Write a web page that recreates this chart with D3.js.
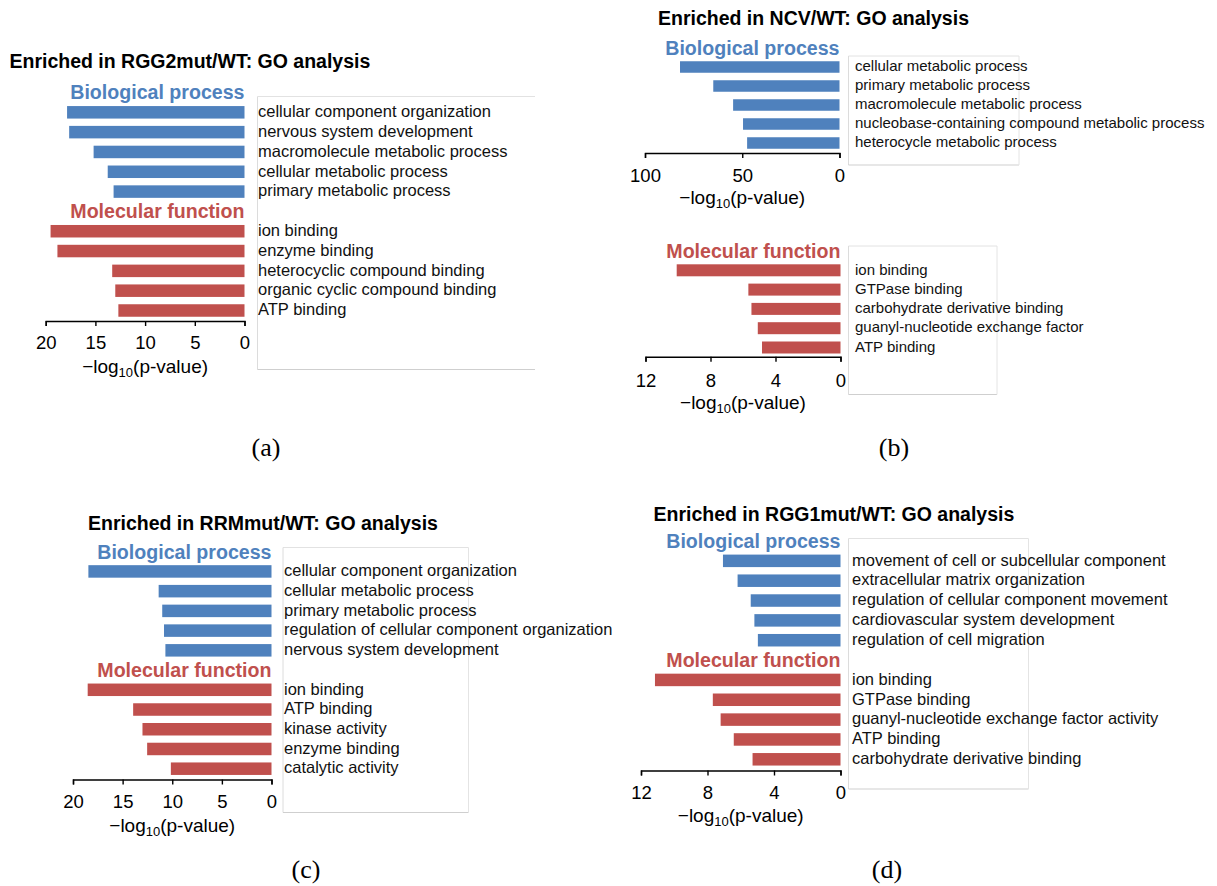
<!DOCTYPE html>
<html>
<head>
<meta charset="utf-8">
<script src="https://cdn.jsdelivr.net/npm/d3@7"></script>
<style>
  html, body { margin: 0; padding: 0; background: #fff; }
  svg { display: block; font-family: Arial, "Liberation Sans", Helvetica, sans-serif; }
</style>
</head>
<body>
<svg id="fig" width="1217" height="886"></svg>
<script>
// GO term enrichment (−log10 p-value) of genes enriched in each mutant vs WT

// (a) RGG2mut/WT
const rgg2Process = ["cellular component organization", "nervous system development", "macromolecule metabolic process", "cellular metabolic process", "primary metabolic process"];
const rgg2ProcessValues = [17.85, 17.64, 15.18, 13.76, 13.17];
const rgg2Function = ["ion binding", "enzyme binding", "heterocyclic compound binding", "organic cyclic compound binding", "ATP binding"];
const rgg2FunctionValues = [19.51, 18.82, 13.31, 13.0, 12.69];
const rgg2Ticks = [20, 15, 10, 5, 0];

// (b) NCV/WT
const ncvProcess = ["cellular metabolic process", "primary metabolic process", "macromolecule metabolic process", "nucleobase-containing compound metabolic process", "heterocycle metabolic process"];
const ncvProcessValues = [82.0, 64.9, 54.7, 49.6, 47.5];
const ncvProcessTicks = [100, 50, 0];
const ncvFunction = ["ion binding", "GTPase binding", "carbohydrate derivative binding", "guanyl-nucleotide exchange factor", "ATP binding"];
const ncvFunctionValues = [10.08, 5.67, 5.48, 5.09, 4.83];
const ncvFunctionTicks = [12, 8, 4, 0];

// (c) RRMmut/WT
const rrmProcess = ["cellular component organization", "cellular metabolic process", "primary metabolic process", "regulation of cellular component organization", "nervous system development"];
const rrmProcessValues = [18.45, 11.37, 11.01, 10.83, 10.69];
const rrmFunction = ["ion binding", "ATP binding", "kinase activity", "enzyme binding", "catalytic activity"];
const rrmFunctionValues = [18.52, 13.94, 13.0, 12.53, 10.14];
const rrmTicks = [20, 15, 10, 5, 0];

// (d) RGG1mut/WT
const rgg1Process = ["movement of cell or subcellular component", "extracellular matrix organization", "regulation of cellular component movement", "cardiovascular system development", "regulation of cell migration"];
const rgg1ProcessValues = [7.07, 6.19, 5.40, 5.18, 4.97];
const rgg1Function = ["ion binding", "GTPase binding", "guanyl-nucleotide exchange factor activity", "ATP binding", "carbohydrate derivative binding"];
const rgg1FunctionValues = [11.16, 7.68, 7.21, 6.42, 5.29];
const rgg1Ticks = [12, 8, 4, 0];

const BLUE = "#4f81bd";
const RED = "#c0504d";
const BP = "Biological process";
const MF = "Molecular function";

const svg = d3.select("#fig");

function groupOf(name, color, terms, values) {
  return { name, color, terms, values };
}

// One block = header(s) + bars + bottom axis + framed label box
function drawBlock(b) {
  const g = svg.append("g");
  const rows = [];
  b.groups.forEach(gr => {
    rows.push("head:" + gr.name);
    gr.terms.forEach(t => rows.push(gr.name + ":" + t));
  });
  const y = d3.scalePoint().domain(rows).range(b.rowRange);
  const x = d3.scaleLinear().domain([0, b.max]).range([b.xRange[1], b.xRange[0]]);

  // label frame
  const [bx0, by0, bx1, by1] = b.box;
  const frame = g.append("g").attr("fill", "none").attr("stroke-width", 1);
  frame.append("line").attr("x1", bx0).attr("y1", by0).attr("x2", bx1).attr("y2", by0).attr("stroke", "#e2e2e2");
  frame.append("line").attr("x1", bx0).attr("y1", by0).attr("x2", bx0).attr("y2", by1).attr("stroke", "#dcdcdc");
  frame.append("line").attr("x1", bx0).attr("y1", by1).attr("x2", bx1).attr("y2", by1).attr("stroke", "#cfcfcf");
  if (b.rightEdge) {
    frame.append("line").attr("x1", bx1).attr("y1", by0).attr("x2", bx1).attr("y2", by1).attr("stroke", "#e4e4e4");
  }

  b.groups.forEach(gr => {
    g.append("text")
      .attr("x", x(0))
      .attr("y", y("head:" + gr.name))
      .attr("dy", "0.35em")
      .attr("text-anchor", "end")
      .attr("font-weight", "bold")
      .attr("font-size", 19.6)
      .attr("fill", gr.color)
      .text(gr.name);

    const data = gr.terms.map((t, i) => ({ key: gr.name + ":" + t, term: t, v: gr.values[i] }));
    g.selectAll(null).data(data).join("rect")
      .attr("x", d => x(d.v))
      .attr("y", d => y(d.key) - b.barH / 2)
      .attr("width", d => x(0) - x(d.v))
      .attr("height", b.barH)
      .attr("fill", gr.color);

    g.selectAll(null).data(data).join("text")
      .attr("x", b.labelX)
      .attr("y", d => y(d.key) - 1)
      .attr("dy", "0.35em")
      .attr("font-size", b.labelSize)
      .attr("fill", "#111")
      .text(d => d.term);
  });

  const axis = d3.axisBottom(x).tickValues(b.ticks).tickSize(5).tickPadding(b.tickPad).tickFormat(d3.format("d"));
  const ax = g.append("g").attr("transform", `translate(0,${b.axisY})`).call(axis);
  ax.select(".domain").attr("stroke", "#000").attr("stroke-width", 1.4);
  ax.selectAll(".tick line").attr("stroke", "#000").attr("stroke-width", 1.4);
  ax.selectAll(".tick text").attr("font-size", 18.5).attr("fill", "#000")
    .attr("font-family", "Arial, 'Liberation Sans', sans-serif");

  const t = g.append("text")
    .attr("x", (b.xRange[0] + b.xRange[1]) / 2)
    .attr("y", b.axisY + b.titleGap)
    .attr("text-anchor", "middle")
    .attr("font-size", 19)
    .attr("fill", "#000");
  t.append("tspan").text("\u2212log");
  t.append("tspan").attr("font-size", 13).attr("dy", 4).text("10");
  t.append("tspan").attr("dy", -4).text("(p-value)");
}

function drawTitle(txt, x, y) {
  svg.append("text")
    .attr("x", x).attr("y", y).attr("dy", "0.35em")
    .attr("font-weight", "bold").attr("font-size", 19.5).attr("fill", "#000")
    .text(txt);
}

function drawCaption(txt, x, y) {
  svg.append("text")
    .attr("x", x).attr("y", y).attr("dy", "0.33em")
    .attr("text-anchor", "middle")
    .attr("font-family", "'Liberation Serif', 'DejaVu Serif', serif")
    .attr("font-size", 26).attr("fill", "#000")
    .text(txt);
}

// (a)
drawTitle("Enriched in RGG2mut/WT: GO analysis", 9.5, 61.5);
drawBlock({
  groups: [groupOf(BP, BLUE, rgg2Process, rgg2ProcessValues), groupOf(MF, RED, rgg2Function, rgg2FunctionValues)],
  rowRange: [92.5, 310.5], barH: 12.5,
  xRange: [45.7, 244.5], max: 20, ticks: rgg2Ticks,
  axisY: 321, tickPad: 10, titleGap: 52,
  labelX: 258, labelSize: 16.5,
  box: [257.5, 96.5, 535, 369.5], rightEdge: false
});
drawCaption("(a)", 266, 447);

// (b)
drawTitle("Enriched in NCV/WT: GO analysis", 658, 18.5);
drawBlock({
  groups: [groupOf(BP, BLUE, ncvProcess, ncvProcessValues)],
  rowRange: [48, 143], barH: 11.5,
  xRange: [645, 839.5], max: 100, ticks: ncvProcessTicks,
  axisY: 153, tickPad: 11, titleGap: 51,
  labelX: 855, labelSize: 15,
  box: [848.5, 56, 1019, 165], rightEdge: true
});
drawBlock({
  groups: [groupOf(MF, RED, ncvFunction, ncvFunctionValues)],
  rowRange: [251, 347.5], barH: 12,
  xRange: [645.5, 840.5], max: 12, ticks: ncvFunctionTicks,
  axisY: 356.7, tickPad: 12, titleGap: 52,
  labelX: 855, labelSize: 15,
  box: [848.5, 246, 997, 394.5], rightEdge: true
});
drawCaption("(b)", 894, 447);

// (c)
drawTitle("Enriched in RRMmut/WT: GO analysis", 88, 523.5);
drawBlock({
  groups: [groupOf(BP, BLUE, rrmProcess, rrmProcessValues), groupOf(MF, RED, rrmFunction, rrmFunctionValues)],
  rowRange: [551.7, 768.7], barH: 12.5,
  xRange: [73, 271.5], max: 20, ticks: rrmTicks,
  axisY: 779.5, tickPad: 10, titleGap: 52,
  labelX: 284, labelSize: 16.5,
  box: [283, 547.5, 468.5, 812.5], rightEdge: true
});
drawCaption("(c)", 306, 869);

// (d)
drawTitle("Enriched in RGG1mut/WT: GO analysis", 653.5, 514.5);
drawBlock({
  groups: [groupOf(BP, BLUE, rgg1Process, rgg1ProcessValues), groupOf(MF, RED, rgg1Function, rgg1FunctionValues)],
  rowRange: [541, 759.3], barH: 12.5,
  xRange: [641, 840.5], max: 12, ticks: rgg1Ticks,
  axisY: 770.5, tickPad: 10, titleGap: 51,
  labelX: 852, labelSize: 16.5,
  box: [848.5, 538.5, 1028.5, 789], rightEdge: true
});
drawCaption("(d)", 887, 869);
</script>
</body>
</html>
